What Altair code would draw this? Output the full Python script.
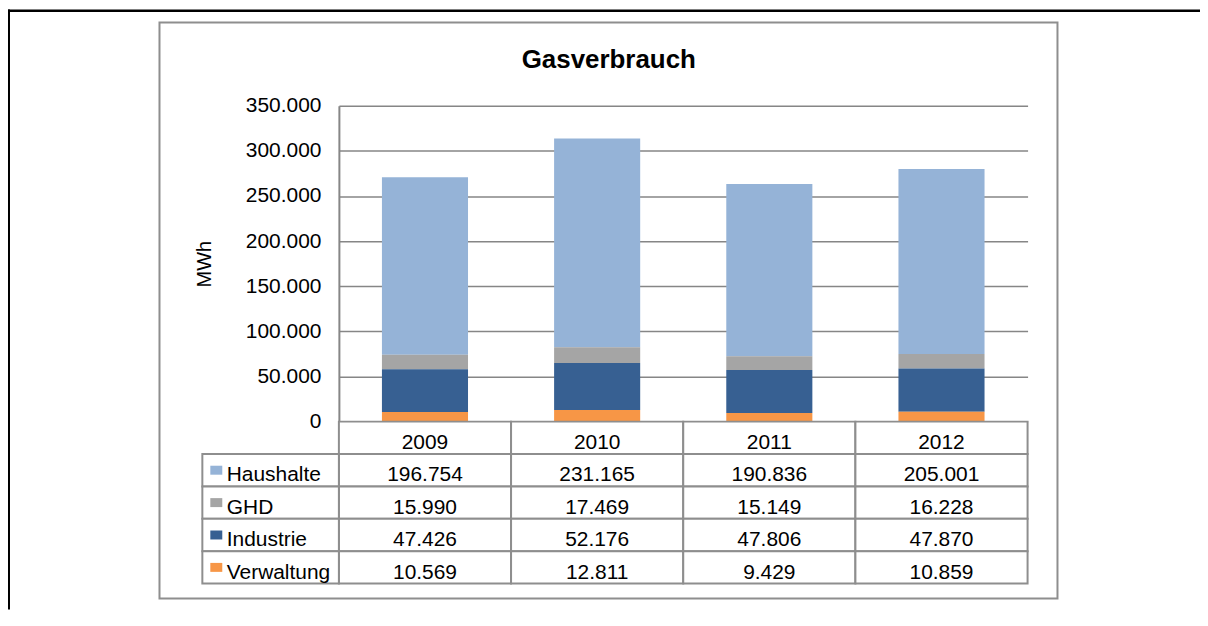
import altair as alt
import pandas as pd

# ---- data ----
years = ["2009", "2010", "2011", "2012"]
series = ["Haushalte", "GHD", "Industrie", "Verwaltung"]
haushalte = [196754, 231165, 190836, 205001]
ghd = [15990, 17469, 15149, 16228]
industrie = [47426, 52176, 47806, 47870]
verwaltung = [10569, 12811, 9429, 10859]
colors = ["#95B3D7", "#A5A5A5", "#376092", "#F79646"]
y_ticks = [0, 50000, 100000, 150000, 200000, 250000, 300000, 350000]
chart_title = "Gasverbrauch"
y_title = "MWh"

values = {"Haushalte": haushalte, "GHD": ghd, "Industrie": industrie, "Verwaltung": verwaltung}
rows = []
for s_i, s in enumerate(series):
    for y_i, yr in enumerate(years):
        rows.append({"year": yr, "series": s, "row": s, "value": values[s][y_i],
                     "stack": len(series) - s_i})
df = pd.DataFrame(rows)
header_df = pd.DataFrame({"year": years, "row": ["Jahr"] * len(years)})
row_domain = ["Jahr"] + series
cells_df = pd.DataFrame([{"year": yr, "row": r} for yr in years for r in row_domain])
legend_df = pd.DataFrame({"row": series})

FONT = "Liberation Sans"
GRID = "#868686"
BORDER = "#8E8E8E"
W = 691
H_TOP = 317
H_TAB = 162.5
FMT = "replace(format(datum.value, ','), ',', '.')"

one = alt.Data(values=[{"k": 1}])

# ---- top: frame + bars ----
top_line = alt.Chart(one).mark_rect(color="#000000").encode(
    x=alt.value(-332), x2=alt.value(864), y=alt.value(-96.5), y2=alt.value(-94))
left_line = alt.Chart(one).mark_rect(color="#000000").encode(
    x=alt.value(-332), x2=alt.value(-330), y=alt.value(-96.5), y2=alt.value(505.5))
frame = alt.Chart(one).mark_rect(fillOpacity=0, stroke=BORDER, strokeWidth=2).encode(
    x=alt.value(-180), x2=alt.value(721), y=alt.value(-83.5), y2=alt.value(494.5))

bars = alt.Chart(df).mark_bar().encode(
    x=alt.X("year:N", scale=alt.Scale(domain=years, paddingInner=0.5, paddingOuter=0.25), axis=None),
    y=alt.Y("value:Q", stack="zero",
            scale=alt.Scale(domain=[0, 350000], nice=False),
            axis=alt.Axis(values=y_ticks, labelExpr=FMT, title=y_title, grid=True,
                          gridColor=GRID, gridWidth=1.5, domainColor=GRID, domainWidth=2,
                          ticks=False, tickSize=0, labelPadding=18, labelFont=FONT,
                          labelFontSize=21, labelColor="#000000", titleFont=FONT,
                          titleFontSize=20, titleFontWeight="normal", titleColor="#000000",
                          titleX=-135, titleY=H_TOP / 2, titleBaseline="middle")),
    color=alt.Color("series:N", scale=alt.Scale(domain=series, range=colors), legend=None),
    order=alt.Order("stack:Q"),
)

title = alt.Chart(one).mark_text(text=chart_title, font=FONT, fontSize=26, fontWeight="bold",
                                 color="#000000", baseline="alphabetic", align="center").encode(
    x=alt.value(270.8), y=alt.value(-38))

top = alt.layer(frame, top_line, left_line, bars, title).properties(width=W, height=H_TOP)

# ---- bottom: data table ----
x_tab = alt.X("year:N", scale=alt.Scale(domain=years, paddingInner=0, paddingOuter=0), axis=None)
y_tab = alt.Y("row:N", scale=alt.Scale(domain=row_domain, paddingInner=0, paddingOuter=0),
              axis=alt.Axis(title=None, ticks=False, tickSize=0, domain=False, grid=False,
                            labelAlign="left", labelPadding=113, labelBaseline="alphabetic",
                            labelOffset=11.3, labelFont=FONT, labelFontSize=21,
                            labelColor="#000000", labelLimit=200,
                            labelExpr="datum.value == 'Jahr' ? '' : datum.value"))

cells = alt.Chart(cells_df).mark_rect(fill="white", stroke=BORDER, strokeWidth=2).encode(
    x=x_tab, y=y_tab)
leg_cells = alt.Chart(legend_df).mark_rect(fill="white", stroke=BORDER, strokeWidth=2).encode(
    x=alt.value(-137), x2=alt.value(0), y=y_tab)
swatches = alt.Chart(legend_df).mark_point(
    shape="M-1,-0.75L1,-0.75L1,0.75L-1,0.75Z", size=144, filled=True, opacity=1).encode(
    x=alt.value(-123), y=y_tab,
    color=alt.Color("row:N", scale=alt.Scale(domain=series, range=colors), legend=None))
vals = alt.Chart(df).transform_calculate(label=FMT).mark_text(
    font=FONT, fontSize=21, baseline="alphabetic", dy=11.3, color="#000000").encode(
    x=x_tab, y=y_tab, text="label:N")
heads = alt.Chart(header_df).mark_text(
    font=FONT, fontSize=21, baseline="alphabetic", dy=11.3, color="#000000").encode(
    x=x_tab, y=y_tab, text="year:N")

table = alt.layer(cells, leg_cells, swatches, vals, heads).properties(width=W, height=H_TAB)

chart = alt.vconcat(top, table, spacing=0, bounds="flush").resolve_scale(
    x="independent", y="independent", color="independent"
).properties(padding=0).configure_view(strokeWidth=0)

chart.save("out.html", embed_options={"renderer": "svg", "actions": False})
